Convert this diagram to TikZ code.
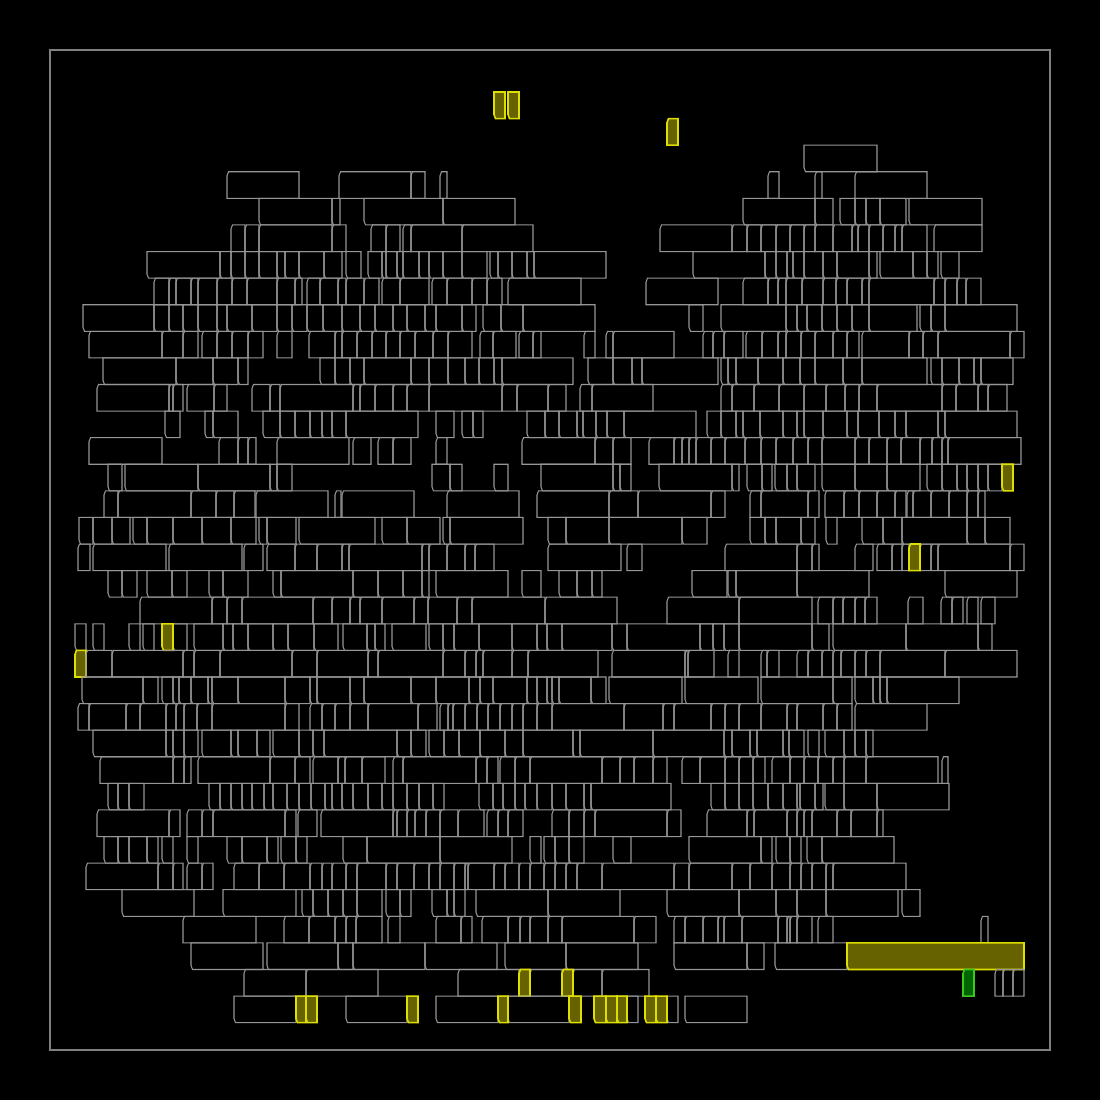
\documentclass[tikz,border=0pt]{standalone}
\usepackage{tikz}

\definecolor{cellgray}{RGB}{150,150,150}
\definecolor{framegray}{RGB}{128,128,128}
\definecolor{hotline}{RGB}{222,222,0}
\definecolor{hotfill}{RGB}{102,98,0}
\definecolor{okline}{RGB}{60,200,30}
\definecolor{okfill}{RGB}{0,100,0}

% one row of boxes: #2 = row index, #3 = list of left/right edges
\newcommand{\cellrow}[3][cell]{%
  \foreach \xa/\xb in {#3} {
    \pgfmathsetmacro{\yt}{\Ytop+\Hrow*#2}
    \pgfmathsetmacro{\yb}{\yt+\Hrow}
    \ifodd#2\relax
      \draw[#1] (\xa,\yt+4) -- (\xa+1.5,\yt) -- (\xb,\yt) -- (\xb,\yb) -- (\xa,\yb) -- cycle;
    \else
      \draw[#1] (\xa,\yt) -- (\xb,\yt) -- (\xb,\yb) -- (\xa+1.5,\yb) -- (\xa,\yb-4) -- cycle;
    \fi
  }}

\begin{document}
\begin{tikzpicture}[
  x=0.01cm, y=-0.01cm,
  cell/.style={draw=cellgray, line width=0.3pt},
  hotcell/.style={draw=hotline, fill=hotfill, line width=0.45pt},
  okcell/.style={draw=okline, fill=okfill, line width=0.45pt},
  ]

  % Parameters
  \def\Ytop{92}
  \def\Hrow{26.59}

  % Background and frame
  \fill[black] (0,0) rectangle (1100,1100);
  \draw[framegray, line width=0.35pt] (50,50) rectangle (1050,1050);

  % Top rows
  \cellrow[hotcell]{0}{494/505, 508/519}
  \cellrow[hotcell]{1}{667/678}
  \cellrow{2}{804/877}
  \cellrow{3}{227/299, 339/411, 411/425, 440/447, 768/779, 815/822, 855/927}
  \cellrow{4}{259/332, 332/340, 364/443, 443/515, 743/815, 815/833, 840/855,
    855/866, 866/880, 880/906, 909/982}
  \cellrow{5}{231/245, 245/259, 259/332, 332/346, 371/386, 386/400, 403/411,
    411/462, 462/533, 660/732, 732/747, 747/761, 761/776, 776/790, 790/804,
    804/815, 815/833, 833/852, 852/858, 858/869, 869/883, 883/895, 895/902,
    902/927, 934/982}
  \cellrow{6}{147/220, 220/231, 231/245, 245/259, 259/277, 277/285, 285/299,
    299/324, 324/342, 346/361, 368/382, 382/386, 386/397, 397/403, 403/419,
    419/429, 429/443, 443/462, 462/487, 490/498, 498/512, 512/527, 527/534,
    534/606, 693/765, 765/776, 776/787, 787/793, 793/804, 804/823, 823/837,
    837/869, 869/877, 880/913, 913/927, 927/938, 941/959}
  \cellrow{7}{154/169, 169/176, 176/191, 191/198, 198/217, 217/232, 232/247,
    247/277, 277/295, 295/302, 307/320, 320/338, 338/346, 346/364, 364/379,
    382/400, 400/429, 432/447, 447/472, 472/487, 487/502, 508/581, 646/718,
    743/768, 768/778, 778/786, 786/802, 802/823, 823/836, 836/847, 847/862,
    862/869, 869/934, 934/945, 945/957, 957/966, 966/981}
  \cellrow{8}{83/154, 154/169, 169/183, 183/198, 198/217, 217/227, 227/252,
    252/277, 277/292, 292/307, 307/323, 323/342, 342/360, 360/375, 375/393,
    393/407, 407/425, 425/436, 436/462, 462/476, 483/501, 501/523, 523/595,
    689/703, 721/786, 786/797, 797/807, 807/822, 822/837, 837/852, 852/869,
    869/917, 920/931, 931/945, 945/1017}
  \cellrow{9}{89/162, 162/183, 183/198, 202/217, 217/232, 232/248, 248/263,
    277/292, 309/335, 335/342, 342/357, 357/372, 372/386, 386/400, 400/415,
    415/433, 433/448, 448/472, 480/493, 493/516, 519/533, 533/541, 584/595,
    606/613, 613/674, 703/713, 713/724, 724/743, 746/762, 762/778, 778/786,
    786/801, 801/815, 815/833, 833/847, 847/859, 862/909, 909/923, 923/938,
    938/1010, 1010/1024}
  \cellrow{10}{103/176, 176/213, 213/238, 238/248, 320/335, 335/350, 350/364,
    364/411, 411/429, 429/448, 448/465, 465/479, 479/494, 494/502, 502/573,
    588/613, 613/632, 632/642, 642/718, 721/728, 728/736, 736/758, 758/783,
    783/800, 800/815, 815/843, 843/862, 862/927, 931/942, 942/959, 959/974,
    974/981, 981/1013}
  \cellrow{11}{97/169, 169/173, 173/183, 187/214, 214/227, 252/270, 270/280,
    280/353, 353/360, 360/375, 375/393, 393/407, 407/429, 429/502, 502/517,
    517/548, 548/566, 580/592, 592/653, 721/732, 732/754, 754/779, 779/804,
    804/826, 826/845, 845/859, 859/877, 877/942, 942/956, 956/978, 978/988,
    988/1007}
  \cellrow{12}{165/180, 205/213, 213/238, 263/280, 280/295, 295/310, 310/322,
    322/332, 332/346, 346/418, 436/454, 462/473, 473/483, 527/545, 545/559,
    559/577, 577/583, 583/596, 596/607, 607/624, 624/696, 707/721, 721/736,
    736/743, 743/760, 760/783, 783/797, 797/804, 804/823, 823/847, 847/858,
    858/879, 879/895, 895/906, 906/938, 938/945, 945/1017}

  % Middle rows
  \cellrow{13}{89/162, 219/238, 238/248, 248/256, 277/349, 353/371, 378/393,
    393/411, 436/447, 522/595, 595/613, 613/631, 649/674, 674/682, 682/689,
    689/696, 696/711, 711/725, 725/745, 745/761, 761/776, 776/793, 793/808,
    808/822, 822/855, 855/869, 869/887, 887/901, 901/920, 920/932, 932/942,
    942/948, 948/1021}
  \cellrow{14}{108/122, 125/198, 198/270, 270/277, 277/292, 432/450, 450/462,
    494/508, 541/613, 613/620, 620/631, 659/732, 732/739, 747/762, 762/772,
    775/787, 787/797, 797/815, 822/855, 855/887, 887/920, 927/942, 942/957,
    957/967, 967/978, 978/988, 988/1002}
  \cellrow[hotcell]{14}{1002/1013}
  \cellrow{15}{104/118, 118/191, 191/216, 216/234, 234/255, 256/328, 335/341,
    342/414, 447/519, 537/609, 609/638, 638/711, 711/725, 750/761, 761/808,
    808/819, 825/844, 844/859, 859/877, 877/895, 895/906, 907/913, 913/931,
    931/949, 949/967, 967/978, 978/985}
  \cellrow{16}{79/93, 93/112, 112/130, 133/147, 147/173, 173/202, 202/231,
    231/256, 259/267, 267/296, 299/375, 382/407, 407/440, 443/450, 450/523,
    548/566, 566/609, 609/682, 682/707, 750/765, 765/776, 776/801, 801/815,
    826/837, 862/883, 883/902, 902/967, 967/985, 985/1010}
  \cellrow{17}{78/90, 93/166, 169/242, 244/263, 267/295, 295/317, 317/342,
    342/349, 349/422, 422/429, 429/447, 447/465, 465/475, 475/494, 548/621,
    627/642, 725/797, 797/812, 812/819, 855/873, 877/892, 892/902, 902/909,
    920/931, 931/938, 938/1010, 1010/1024}
  \cellrow[hotcell]{17}{909/920}
  \cellrow{18}{108/122, 122/137, 147/172, 172/187, 209/223, 223/248, 273/281,
    281/353, 353/378, 378/403, 403/422, 422/429, 436/508, 522/541, 559/577,
    577/592, 592/602, 692/727, 728/736, 736/797, 797/869, 945/1017}
  \cellrow{19}{140/212, 212/227, 227/242, 242/313, 313/332, 332/350, 350/360,
    360/382, 382/414, 414/428, 428/457, 457/472, 472/545, 545/617, 667/739,
    739/812, 818/833, 833/843, 843/855, 855/865, 865/877, 908/923, 941/952,
    952/963, 967/978, 981/995}
  \cellrow{20}{75/86, 93/104, 129/140, 143/154, 173/187, 194/223, 223/233,
    233/248, 248/273, 273/288, 288/314, 314/338, 343/367, 367/375, 375/385,
    392/426, 429/443, 443/454, 454/479, 479/512, 512/537, 537/547, 547/562,
    562/612, 612/627, 627/700, 700/713, 713/724, 724/739, 739/812, 812/829,
    833/906, 906/978, 978/992}
  \cellrow[hotcell]{20}{162/173}
  \cellrow[hotcell]{21}{75/86}
  \cellrow{21}{86/112, 112/183, 183/194, 194/220, 220/292, 292/317, 317/368,
    368/378, 378/443, 443/465, 465/476, 476/483, 483/512, 512/528, 528/598,
    612/685, 685/688, 688/714, 728/739, 761/767, 767/779, 797/808, 808/822,
    822/833, 833/841, 841/855, 855/866, 866/880, 880/945, 945/1017}
  \cellrow{22}{82/143, 143/158, 162/173, 173/179, 179/191, 191/208, 208/212,
    212/238, 238/285, 285/310, 310/317, 317/350, 350/364, 364/411, 411/436,
    436/469, 469/480, 480/493, 493/527, 527/537, 537/547, 547/552, 552/559,
    559/591, 591/606, 609/682, 685/758, 761/833, 833/852, 855/873, 873/880,
    880/887, 887/959}
  \cellrow{23}{78/89, 89/126, 126/140, 140/166, 166/176, 176/184, 184/197,
    197/212, 212/285, 285/299, 310/322, 322/335, 335/350, 350/368, 368/418,
    418/437, 440/448, 448/453, 453/465, 465/477, 477/488, 488/500, 500/512,
    512/523, 523/537, 537/552, 552/624, 624/663, 663/674, 674/711, 711/725,
    725/739, 739/761, 761/787, 787/797, 797/823, 823/837, 837/852, 855/927}

  % Lower rows
  \cellrow{24}{93/166, 166/173, 173/184, 184/198, 202/231, 231/238, 238/257,
    257/270, 273/299, 299/313, 313/324, 324/397, 397/411, 411/426, 429/444,
    444/459, 459/480, 480/505, 505/523, 523/573, 573/580, 580/653, 653/724,
    724/732, 732/750, 750/757, 757/783, 783/789, 789/804, 808/819, 825/844,
    844/855, 855/866, 866/873}
  \cellrow{25}{100/173, 173/184, 184/191, 198/270, 270/295, 295/310, 313/338,
    338/345, 345/362, 362/385, 393/403, 403/476, 476/487, 487/498, 500/515,
    515/530, 530/602, 602/620, 620/634, 634/653, 653/667, 682/700, 700/725,
    725/739, 739/753, 753/765, 772/790, 790/804, 804/818, 818/833, 833/844,
    844/866, 866/938, 942/948}
  \cellrow{26}{108/118, 118/129, 129/144, 209/220, 220/231, 231/242, 242/252,
    252/264, 264/273, 273/287, 287/299, 299/311, 311/325, 325/332, 332/342,
    342/353, 353/368, 368/382, 382/393, 393/407, 407/419, 419/433, 433/444,
    479/493, 493/503, 503/515, 515/525, 525/537, 537/552, 552/566, 566/584,
    584/591, 591/671, 711/725, 725/739, 739/753, 753/768, 768/783, 783/797,
    797/800, 800/815, 815/823, 825/844, 844/877, 877/949}
  \cellrow{27}{97/169, 169/180, 187/202, 202/213, 213/285, 285/296, 298/317,
    321/393, 393/397, 397/407, 407/415, 415/426, 426/440, 440/458, 458/484,
    487/498, 498/508, 508/523, 552/569, 569/584, 584/595, 595/667, 667/681,
    707/747, 747/754, 754/787, 787/797, 797/804, 804/812, 812/837, 837/851,
    851/877, 877/883}
  \cellrow{28}{104/118, 118/129, 129/147, 147/158, 162/173, 187/198, 227/242,
    242/267, 267/278, 281/296, 296/307, 343/367, 367/440, 440/512, 530/541,
    544/555, 555/569, 569/584, 613/631, 689/761, 761/772, 776/790, 790/801,
    807/822, 822/894}
  \cellrow{29}{86/158, 158/173, 173/183, 187/202, 202/213, 234/259, 259/284,
    284/310, 310/322, 322/332, 332/346, 346/357, 357/386, 386/397, 397/414,
    414/429, 429/440, 440/454, 454/465, 465/468, 468/494, 494/505, 505/519,
    519/530, 530/544, 544/555, 555/566, 566/577, 577/602, 602/674, 674/689,
    689/732, 732/750, 750/772, 772/790, 790/801, 801/812, 812/826, 826/833,
    833/906}
  \cellrow{30}{122/194, 223/296, 302/313, 313/328, 328/343, 343/357, 357/382,
    386/400, 400/411, 432/447, 447/454, 454/465, 476/548, 548/620, 667/739,
    739/776, 776/797, 797/826, 826/898, 902/920}
  \cellrow{31}{183/256, 284/309, 309/335, 335/346, 346/356, 356/382, 388/400,
    436/461, 461/472, 482/508, 508/520, 520/530, 530/548, 548/562, 562/634,
    634/656, 674/685, 685/703, 703/718, 718/724, 724/742, 742/778, 778/787,
    787/790, 790/797, 797/812, 818/833, 981/988}
  \cellrow{32}{191/263, 267/338, 338/353, 353/425, 425/497, 505/566, 566/638,
    674/747, 747/764, 775/847}
  \cellrow[hotcell]{32}{847/1024}
  \cellrow{33}{244/306, 306/378, 458/519, 530/562, 573/602, 602/649, 995/1003,
    1003/1013, 1013/1024}
  \cellrow[hotcell]{33}{519/530, 562/573}
  \cellrow[okcell]{33}{963/974}
  \cellrow{34}{234/296, 346/407, 436/498, 508/569, 627/638, 667/678, 685/747}
  \cellrow[hotcell]{34}{296/306, 306/317, 407/418, 498/508, 569/581, 594/606,
    606/617, 617/627, 645/656, 656/667}

\end{tikzpicture}
\end{document}
